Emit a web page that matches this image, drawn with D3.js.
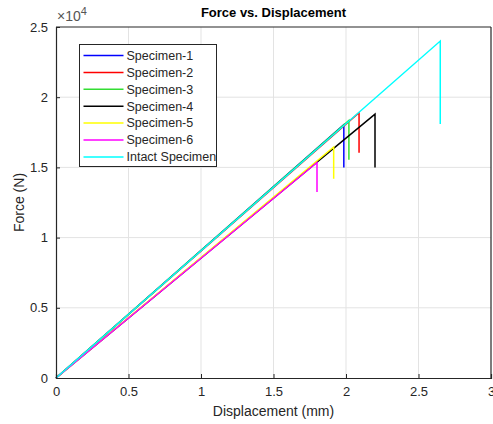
<!DOCTYPE html>
<html>
<head>
<meta charset="utf-8">
<script src="https://cdn.jsdelivr.net/npm/d3@7"></script>
<style>
  body { margin: 0; background: #fff; }
  svg { display: block; font-family: "Liberation Sans", Arial, sans-serif; }
</style>
</head>
<body>
<svg id="chart"></svg>
<script>
// series: path goes origin -> peak -> drop after failure
const names = ["Specimen-1", "Specimen-2", "Specimen-3", "Specimen-4", "Specimen-5", "Specimen-6", "Intact Specimen"];
const colors = ["#0000ff", "#ff0000", "#33dd33", "#000000", "#ffff00", "#ff00ff", "#00ffff"];
const peakDisp = [1.985, 2.09, 2.02, 2.20, 1.915, 1.80, 2.65];
const peakForce = [18050, 18900, 18350, 18800, 16450, 15350, 24000];
const dropForce = [15000, 16050, 15550, 15000, 14200, 13250, 18100];
const xTicks = [0, 0.5, 1, 1.5, 2, 2.5, 3];
const yTicks = [0, 0.5, 1, 1.5, 2, 2.5];   // in units of 10^4

const width = 493, height = 424;
const margin = {top: 27, right: 2, bottom: 46, left: 56};
const innerW = width - margin.left - margin.right;
const innerH = height - margin.top - margin.bottom;

const svg = d3.select("#chart").attr("width", width).attr("height", height);
const g = svg.append("g").attr("transform", `translate(${margin.left},${margin.top})`);

const x = d3.scaleLinear().domain([0, 3]).range([0, innerW]);
const y = d3.scaleLinear().domain([0, 25000]).range([innerH, 0]);

const textColor = "#262626";

//grid
g.append("g").selectAll("line").data(xTicks.slice(1, -1)).enter().append("line")
    .attr("x1", d => x(d)).attr("x2", d => x(d))
    .attr("y1", 0).attr("y2", innerH)
    .attr("stroke", "#e3e3e3").attr("stroke-width", 1);
g.append("g").selectAll("line").data(yTicks.slice(1, -1)).enter().append("line")
    .attr("x1", 0).attr("x2", innerW)
    .attr("y1", d => y(d * 10000)).attr("y2", d => y(d * 10000))
    .attr("stroke", "#e3e3e3").attr("stroke-width", 1);

// data lines
const line = d3.line().x(d => x(d[0])).y(d => y(d[1]));
names.forEach((name, i) => {
    const pts = [[0, 0], [peakDisp[i], peakForce[i]], [peakDisp[i], dropForce[i]]];
    g.append("path")
        .datum(pts)
        .attr("d", line)
        .attr("fill", "none")
        .attr("stroke", colors[i])
        .attr("stroke-width", 1.5)
        .attr("stroke-linejoin", "miter");
});

// axes box
const xAxis = g.append("g").attr("transform", `translate(0,${innerH})`)
    .call(d3.axisBottom(x).tickValues(xTicks).tickSize(-4).tickPadding(9).tickFormat(d3.format("")));
const yAxis = g.append("g")
    .call(d3.axisLeft(y).tickValues(yTicks.map(v => v * 10000)).tickSize(-4).tickPadding(8)
        .tickFormat(d => d3.format("")(d / 10000)));
[xAxis, yAxis].forEach(a => {
    a.select(".domain").attr("stroke", textColor).attr("stroke-width", 1.2);
    a.selectAll(".tick line").attr("stroke", textColor);
    a.selectAll(".tick text").attr("fill", textColor).style("font-size", "13px")
        .style("font-family", "'Liberation Sans', Arial, sans-serif");
});
xAxis.selectAll(".tick text").attr("dy", "0.71em");
g.append("line").attr("x1", 0).attr("x2", innerW).attr("y1", 0).attr("y2", 0)
    .attr("stroke", textColor).attr("stroke-width", 1.2);
g.append("line").attr("x1", innerW).attr("x2", innerW).attr("y1", 0).attr("y2", innerH)
    .attr("stroke", textColor).attr("stroke-width", 1.2);

// exponent
const expo = svg.append("text").attr("x", margin.left + 1).attr("y", 21)
    .attr("fill", "#555").style("font-size", "14px");
expo.append("tspan").text("\u00d710");
expo.append("tspan").attr("dy", -6).style("font-size", "11px").text("4");

// title + labels
svg.append("text").attr("x", margin.left + innerW / 2).attr("y", 17)
    .attr("text-anchor", "middle").attr("font-weight", "bold")
    .attr("fill", "#000").style("font-size", "13px").text("Force vs. Displacement");
svg.append("text").attr("x", margin.left + innerW / 2).attr("y", 416)
    .attr("text-anchor", "middle").attr("fill", textColor).style("font-size", "14px")
    .text("Displacement (mm)");
svg.append("text").attr("transform", `translate(24,${margin.top + innerH / 2}) rotate(-90)`)
    .attr("text-anchor", "middle").attr("fill", textColor).style("font-size", "14px")
    .text("Force (N)");

// legend
const lg = svg.append("g").attr("transform", "translate(79.5,44.5)");
lg.append("rect").attr("width", 137).attr("height", 122)
    .attr("fill", "#fff").attr("stroke", textColor).attr("stroke-width", 1);
names.forEach((name, i) => {
    const yy = 11 + i * 16.9;
    lg.append("line").attr("x1", 4).attr("x2", 44).attr("y1", yy).attr("y2", yy)
        .attr("stroke", colors[i]).attr("stroke-width", 1.5);
    lg.append("text").attr("x", 47).attr("y", yy).attr("dy", "0.35em")
        .attr("fill", textColor).style("font-size", "12.5px").text(name);
});
</script>
</body>
</html>
